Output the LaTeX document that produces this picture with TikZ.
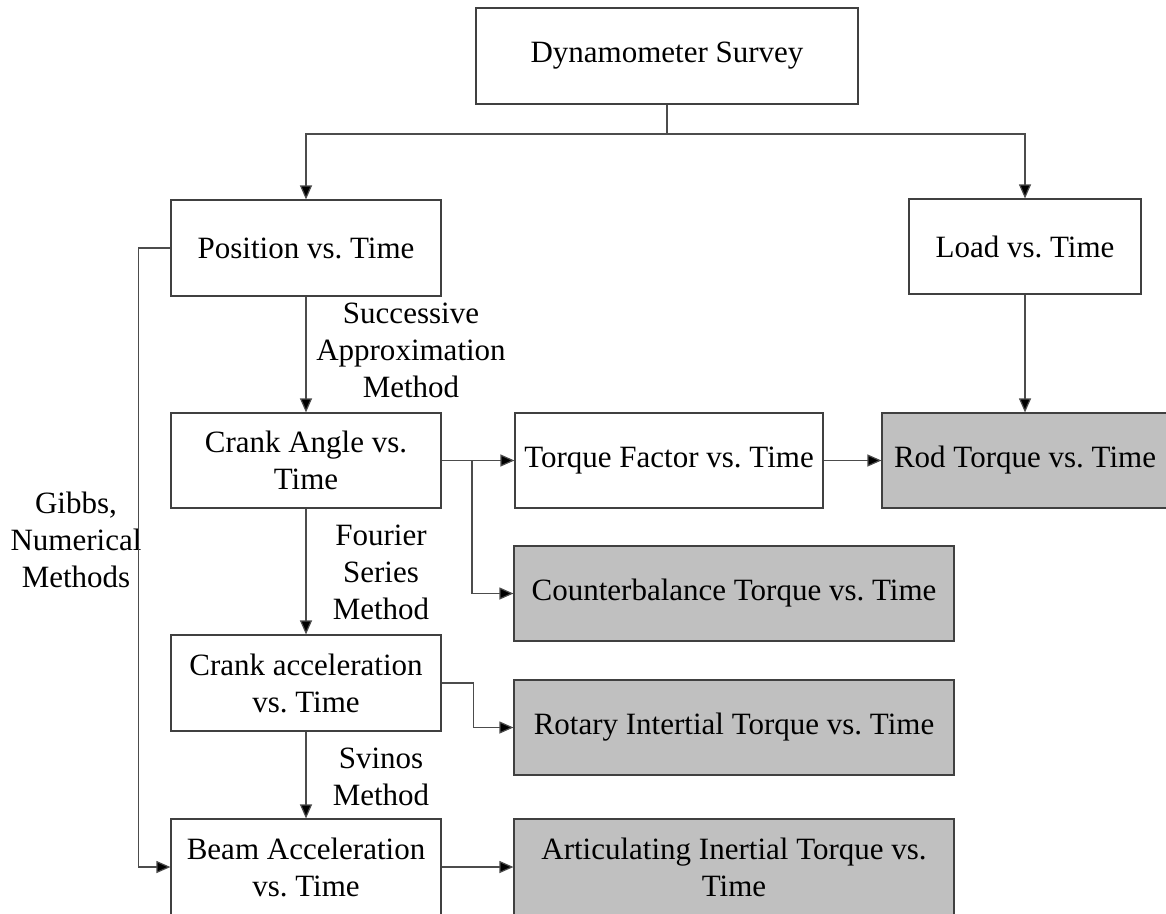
\documentclass[tikz,border=0pt]{standalone}
\usepackage{fontspec}
\setmainfont{Liberation Serif}
\usetikzlibrary{arrows.meta}
\frenchspacing

\tikzset{
  box/.style={draw=black!75, line width=1.2pt, fill=white, inner sep=0pt,
    align=center, font=\fontsize{31}{37}\selectfont},
  result/.style={box, fill={rgb,255:red,192;green,192;blue,192}},
  link/.style={draw=black!70, line width=1.2pt},
  arr/.style={link, -{Triangle[length=14pt,width=12pt,fill=black]}},
  note/.style={align=center, font=\fontsize{31}{37}\selectfont, inner sep=0pt}
}

\begin{document}
\begin{tikzpicture}[x=1pt,y=-1pt]
\path[use as bounding box, clip] (0,0) rectangle (1166,913);

% boxes
\node[box, minimum width=382pt, minimum height=96pt] (survey) at (667,56) {Dynamometer Survey};
\node[box, minimum width=270pt, minimum height=96pt] (pos) at (306,248) {Position vs. Time};
\node[box, minimum width=232pt, minimum height=95pt] (load) at (1025,246.5) {Load vs. Time};
\node[box, minimum width=270pt, minimum height=95pt] (crank) at (306,460.5) {Crank Angle vs.\\Time};
\node[box, minimum width=308pt, minimum height=95pt] (tf) at (669,460.5) {Torque Factor vs. Time};
\node[result, minimum width=286pt, minimum height=95pt] (rod) at (1025,460.5) {Rod Torque vs. Time};
\node[result, minimum width=440pt, minimum height=95pt] (cb) at (734,593.5) {Counterbalance Torque vs. Time};
\node[box, minimum width=270pt, minimum height=96pt] (cacc) at (306,683) {Crank acceleration\\vs. Time};
\node[result, minimum width=440pt, minimum height=95pt] (rot) at (734,727.5) {Rotary Intertial Torque vs. Time};
\node[box, minimum width=270pt, minimum height=96pt] (beam) at (306,867) {Beam Acceleration\\vs. Time};
\node[result, minimum width=440pt, minimum height=96pt] (art) at (734,867) {Articulating Inertial Torque vs.\\Time};

% method labels
\node[note] (sam) at (411,350) {Successive\\Approximation\\Method};
\node[note] (fsm) at (381,572) {Fourier\\Series\\Method};
\node[note] (svm) at (381,777) {Svinos\\Method};
\node[note] (gnm) at (76,539.5) {Gibbs,\\Numerical\\Methods};

% connectors
\coordinate (split) at (667,134);
\draw[link] (survey.south) -- (split);
\draw[arr] (split) -| (pos.north);
\draw[arr] (split) -| (load.north);
\draw[arr] (pos) -- (crank);
\draw[arr] (load) -- (rod);
\draw[arr] (crank) -- (tf);
\draw[arr] (tf) -- (rod);
\coordinate (branch) at (472,460.5);
\draw[arr] (branch) |- (cb.west);
\draw[arr] (crank) -- (cacc);
\draw[arr] (cacc.east) -- ++(32,0) |- (rot.west);
\draw[arr] (cacc) -- (beam);
\draw[arr] (beam) -- (art);
\draw[arr] (pos.west) -- ++(-32,0) |- (beam.west);
\end{tikzpicture}
\end{document}
